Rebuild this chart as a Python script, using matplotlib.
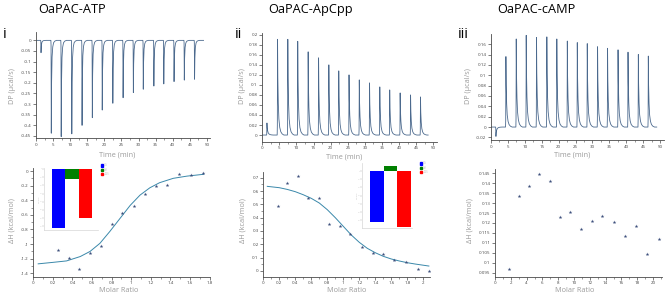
import matplotlib
matplotlib.use('Agg')
import matplotlib.pyplot as plt
from matplotlib.ticker import MultipleLocator, FuncFormatter
from matplotlib.patches import Patch

plt.rcParams['font.family'] = ['Open Sans', 'DejaVu Sans']

W, H, DPI = 667, 295, 100

# ---------------- Data ----------------
# Raw thermograms: injection times (min) and peak heights (ucal/s)
atp_times = [1.4, 4.4, 7.3, 10.4, 13.4, 16.4, 19.3, 22.4, 25.4, 28.4, 31.3, 34.4, 37.3, 40.3, 43.3, 46.3]
atp_peaks = [-0.058, -0.437, -0.453, -0.44, -0.40, -0.364, -0.328, -0.296, -0.27, -0.246,
             -0.23, -0.215, -0.205, -0.194, -0.187, -0.183]
apcpp_times = [1.3, 4.4, 7.4, 10.3, 13.35, 16.4, 19.4, 22.3, 25.3, 28.3, 31.3, 34.3, 37.2, 40.25, 43.3, 46.2]
apcpp_peaks = [0.024, 0.191, 0.191, 0.187, 0.166, 0.154, 0.14, 0.128, 0.12, 0.11,
               0.104, 0.096, 0.09, 0.084, 0.08, 0.076]
camp_times = [1.4, 4.35, 7.4, 10.35, 13.4, 16.45, 19.4, 22.5, 25.45, 28.4, 31.45, 34.4, 37.5, 40.45, 43.5, 46.45]
camp_peaks = [-0.018, 0.136, 0.17, 0.177, 0.173, 0.174, 0.17, 0.166, 0.163, 0.161,
              0.155, 0.152, 0.149, 0.1445, 0.14, 0.137]

# Peak profile (time offset in min, fraction of peak height)
sharp_dt = [-0.05, 0.0, 0.07, 0.16, 0.3, 0.5, 0.75, 1.1, 1.6]
sharp_rel = [0.0, 0.05, 1.0, 0.45, 0.18, 0.07, 0.025, 0.008, 0.0]
slow_dt = [-0.05, 0.0, 0.06, 0.14, 0.28, 0.45, 0.7, 1.0, 1.4, 1.9]
slow_rel = [0.0, 0.1, 1.0, 0.6, 0.33, 0.17, 0.08, 0.035, 0.012, 0.0]

# Integrated heats
atp_ratio = [0.255, 0.36, 0.466, 0.58, 0.69, 0.80, 0.91, 1.025, 1.137, 1.25, 1.37, 1.49, 1.61, 1.73]
atp_dh = [-1.085, -1.19, -1.34, -1.126, -1.026, -0.725, -0.575, -0.474, -0.31, -0.205,
          -0.187, -0.041, -0.05, -0.023]
atp_fit_x = [0.05, 0.2, 0.34, 0.48, 0.58, 0.68, 0.78, 0.885, 0.99, 1.09, 1.19, 1.29, 1.43, 1.57, 1.74]
atp_fit_y = [-1.27, -1.25, -1.23, -1.17, -1.10, -0.99, -0.83, -0.65, -0.47, -0.33, -0.23, -0.16,
             -0.10, -0.07, -0.045]

apcpp_ratio = [0.19, 0.30, 0.44, 0.56, 0.70, 0.82, 0.96, 1.09, 1.23, 1.37, 1.50, 1.64, 1.78, 1.93, 2.07]
apcpp_dh = [0.49, 0.66, 0.71, 0.545, 0.545, 0.355, 0.34, 0.28, 0.18, 0.138, 0.128, 0.083,
            0.065, 0.018, 0.0]
apcpp_fit_x = [0.05, 0.2, 0.3, 0.4, 0.5, 0.6, 0.7, 0.8, 0.9, 1.0, 1.1, 1.2, 1.3, 1.4, 1.5,
               1.6, 1.7, 1.8, 1.9, 2.07]
apcpp_fit_y = [0.635, 0.625, 0.612, 0.595, 0.572, 0.545, 0.51, 0.46, 0.40, 0.335, 0.27, 0.215,
               0.17, 0.137, 0.11, 0.09, 0.075, 0.062, 0.052, 0.037]

camp_ratio = [1.82, 3.09, 4.31, 5.62, 6.93, 8.2, 9.51, 10.9, 12.26, 13.6, 15.0, 16.4, 17.84, 19.28, 20.72]
camp_dh = [0.097, 0.1338, 0.1385, 0.1448, 0.1412, 0.1232, 0.1257, 0.1168, 0.1212, 0.1233,
           0.1203, 0.1137, 0.1185, 0.1042, 0.112]

# Thermodynamic signature insets (kcal/mol): dG, dH, -TdS
sig_labels = ['\u0394G', '\u0394H', '-T\u0394S']
sig_colors = ['#0000ff', '#008000', '#ff0000']
atp_sig = [-7.2, -1.25, -5.95]
apcpp_sig = [-6.2, 0.6, -6.8]

titles = ['OaPAC-ATP', 'OaPAC-ApCpp', 'OaPAC-cAMP']
panel_tags = ['i', 'ii', 'iii']

# ---------------- Styling ----------------
TRACE_C = '#4c6a8e'
FIT_C = '#3a88aa'
PT_C = '#3d4f7c'
SPINE_C = '#4a4a4a'
LABEL_C = '#9a9a9a'
TICK_FS = 3.2
LABEL_FS = 5.2

fig = plt.figure(figsize=(W / DPI, H / DPI), dpi=DPI)


def px_axes(l, t, r, b):
    return fig.add_axes([l / W, 1 - b / H, (r - l) / W, (b - t) / H])


def fmt(v, pos):
    s = ('%.3f' % v).rstrip('0').rstrip('.')
    if s in ('-0', ''):
        s = '0'
    return s


def style(ax, xmaj, xmin, ymaj, ymin=None):
    for s in ('top', 'right'):
        ax.spines[s].set_visible(False)
    for s in ('left', 'bottom'):
        ax.spines[s].set_color(SPINE_C)
        ax.spines[s].set_linewidth(0.6)
    ax.xaxis.set_major_locator(MultipleLocator(xmaj))
    ax.xaxis.set_minor_locator(MultipleLocator(xmin))
    ax.yaxis.set_major_locator(MultipleLocator(ymaj))
    if ymin:
        ax.yaxis.set_minor_locator(MultipleLocator(ymin))
    ax.xaxis.set_major_formatter(FuncFormatter(fmt))
    ax.yaxis.set_major_formatter(FuncFormatter(fmt))
    ax.tick_params(which='major', length=2.2, width=0.5, color=SPINE_C,
                   labelsize=TICK_FS, labelcolor='#444444', pad=1.2)
    ax.tick_params(which='minor', length=1.2, width=0.4, color=SPINE_C)


def build_trace(times, peaks, dts, rels, t_end):
    xs, ys = [0.0], [0.0]
    for t0, h in zip(times, peaks):
        for d, r in zip(dts, rels):
            xs.append(t0 + d)
            ys.append(h * r)
    xs.append(t_end)
    ys.append(0.0)
    return xs, ys


# ---- Top row: thermograms ----
top_specs = [
    ((36, 32.3, 210.4, 138.3), atp_times, atp_peaks, sharp_dt, sharp_rel, (-0.461, 0.038), 0.05, 49.0),
    ((262.3, 33.3, 436.7, 141.7), apcpp_times, apcpp_peaks, slow_dt, slow_rel, (-0.0133, 0.203), 0.02, 48.5),
    ((491, 34.3, 663.5, 140), camp_times, camp_peaks, slow_dt, slow_rel, (-0.025, 0.179), 0.02, 49.0),
]
for rect, tt, pk, dts, rels, yl, ymaj, tend in top_specs:
    ax = px_axes(*rect)
    xs, ys = build_trace(tt, pk, dts, rels, tend)
    ax.plot(xs, ys, color=TRACE_C, lw=0.6)
    ax.set_xlim(0, 51)
    ax.set_ylim(*yl)
    style(ax, 5, 2.5, ymaj)

# ---- Bottom row: isotherms ----
ax1 = px_axes(33.3, 168.3, 210, 276.7)
ax1.plot(atp_fit_x, atp_fit_y, color=FIT_C, lw=0.7)
ax1.plot(atp_ratio, atp_dh, ls='none', marker='*', ms=2.8, color=PT_C, mew=0)
ax1.set_xlim(0, 1.805)
ax1.set_ylim(-1.446, 0.037)
style(ax1, 0.2, 0.1, 0.2, 0.1)

ax2 = px_axes(263.3, 171.7, 430, 276.7)
ax2.plot(apcpp_fit_x, apcpp_fit_y, color=FIT_C, lw=0.7)
ax2.plot(apcpp_ratio, apcpp_dh, ls='none', marker='*', ms=2.8, color=PT_C, mew=0)
ax2.set_xlim(0, 2.084)
ax2.set_ylim(-0.043, 0.745)
style(ax2, 0.2, 0.1, 0.1, 0.05)

ax3 = px_axes(495, 169.3, 661.7, 276.7)
ax3.plot(camp_ratio, camp_dh, ls='none', marker='*', ms=2.8, color=PT_C, mew=0)
ax3.set_xlim(0, 21.1)
ax3.set_ylim(0.093, 0.147)
style(ax3, 2, 1, 0.005)


# ---- Insets ----
def inset(rect, vals, xl, yl, leg_px):
    ax = px_axes(*rect)
    ax.bar(range(len(vals)), vals, width=1.0, color=sig_colors)
    ax.set_xlim(*xl)
    ax.set_ylim(*yl)
    for s in ('top', 'right'):
        ax.spines[s].set_visible(False)
    for s in ('left', 'bottom'):
        ax.spines[s].set_color('#d6d6d6')
        ax.spines[s].set_linewidth(0.5)
    ax.set_xticks([])
    ax.yaxis.set_major_locator(MultipleLocator(1))
    ax.tick_params(axis='y', length=1.2, width=0.3, color='#b0b0b0', labelsize=1.0,
                   labelcolor='#c8c8c8', pad=0.4)
    ax.set_ylabel('kcal/mol', fontsize=1.4, color='#c0c0c0', labelpad=0.6)
    handles = [Patch(color=c) for c in sig_colors]
    fig.legend(handles, sig_labels, loc='upper left',
               bbox_to_anchor=(leg_px[0] / W, 1 - leg_px[1] / H),
               fontsize=2.0, handlelength=0.9, handleheight=0.9, labelspacing=0.08,
               borderpad=0, borderaxespad=0, handletextpad=0.3, frameon=False,
               labelcolor='#c0c0c0')


inset((44, 168, 98, 230), atp_sig, (-1.1, 2.95), (-7.44, 0.12), (100.5, 163.5))
inset((362, 163, 412, 228), apcpp_sig, (-1.08, 2.57), (-6.95, 0.98), (419.5, 161.5))

# ---- Texts ----
title_x = [72.5, 310.8, 536.7]
for x, t in zip(title_x, titles):
    fig.text(x / W, 1 - 13.3 / H, t, ha='center', va='baseline', fontsize=9.2, color='black')

tag_x = [2.5, 234.5, 457.5]
for x, t in zip(tag_x, panel_tags):
    fig.text(x / W, 1 - 38.3 / H, t, ha='left', va='baseline', fontsize=10.5, color='black')

for x, y in zip([13, 243, 468], [86, 86, 86]):
    fig.text(x / W, 1 - y / H, 'DP (\u00b5cal/s)', rotation=90, ha='center', va='center',
             fontsize=LABEL_FS, color=LABEL_C)
for x, y in zip([117, 344, 572.5], [154.5, 157, 155.5]):
    fig.text(x / W, 1 - y / H, 'Time (min)', ha='center', va='center', fontsize=LABEL_FS, color=LABEL_C)
for x in [12.5, 242.5, 470]:
    fig.text(x / W, 1 - 221 / H, '\u0394H (kcal/mol)', rotation=90, ha='center', va='center',
             fontsize=LABEL_FS, color=LABEL_C)
for x in [119, 347, 574.5]:
    fig.text(x / W, 1 - 290 / H, 'Molar Ratio', ha='center', va='center', fontsize=LABEL_FS, color=LABEL_C)

fig.savefig('out.png', dpi=DPI)
